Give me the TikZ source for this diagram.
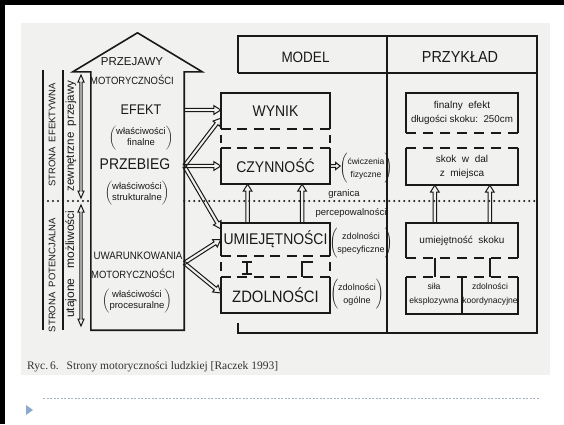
\documentclass[tikz,border=0pt]{standalone}
\usepackage{fontspec}
\setmainfont{Liberation Sans}
\newfontfamily\dfont[FakeStretch=0.9]{Liberation Sans}
\newfontfamily\serfont{Liberation Serif}
\usetikzlibrary{calc}
\definecolor{ink}{RGB}{25,25,25}
\definecolor{scanbg}{RGB}{241,241,240}
\definecolor{sepc}{RGB}{165,178,192}
\definecolor{tric}{RGB}{140,170,205}
\definecolor{capc}{RGB}{50,50,50}
\newcommand\fsz[2]{\fontsize{#1}{#2}\selectfont}
\def\hl{7pt}\def\hw{4.4pt}\def\sw{1.7pt}
% hollow arrow from #2 to #3
\newcommand\harrow[3][]{%
  \coordinate (hB) at ($(#3)!\hl!(#2)$);
  \draw[harr,#1] ($(#2)!\sw!90:(#3)$) -- ($(hB)!\sw!90:(#3)$) -- ($(hB)!\hw!90:(#3)$) -- (#3) -- ($(hB)!\hw!-90:(#3)$) -- ($(hB)!\sw!-90:(#3)$) -- ($(#2)!\sw!-90:(#3)$);
}
% hollow double-headed arrow
\newcommand\hdarrow[2]{%
  \coordinate (hA) at ($(#1)!7pt!(#2)$);
  \coordinate (hB) at ($(#2)!7pt!(#1)$);
  \draw[harr] (#1) -- ($(hA)!3pt!90:(#1)$) -- ($(hA)!1.2pt!90:(#1)$) -- ($(hB)!1.2pt!-90:(#2)$) -- ($(hB)!3pt!-90:(#2)$) -- (#2) -- ($(hB)!3pt!90:(#2)$) -- ($(hB)!1.2pt!90:(#2)$) -- ($(hA)!1.2pt!-90:(#1)$) -- ($(hA)!3pt!-90:(#1)$) -- cycle;
}
\newcommand\hpar[2]{$\bigg(\begin{tabular}{@{}c@{}}#1\\#2\end{tabular}\bigg)$}
\newcommand\mpar[2]{$\Bigg(\begin{tabular}{@{}c@{}}#1\\#2\end{tabular}\Bigg)$}
\begin{document}
\begin{tikzpicture}[x=1pt,y=-1pt,
  ln/.style={draw=ink,line width=1.6pt},
  dshm/.style={draw=ink,line width=1.6pt,dash pattern=on 10pt off 6.5pt},
  dshr/.style={draw=ink,line width=1.6pt,dash pattern=on 10pt off 7pt},
  harr/.style={draw=ink,line width=1pt,line join=miter},
  dotl/.style={draw=ink,line width=2.2pt,line cap=round,dash pattern=on 0pt off 5pt},
  boxn/.style={inner sep=0pt,text=ink},
  lbl/.style={inner sep=0pt,text=ink},
  big/.style={font=\dfont\fsz{15.5}{17}},
  mid/.style={font=\dfont\fsz{10.5}{12}},
  small/.style={font=\fsz{9.5}{11}},
  side/.style={font=\fsz{9}{13}},
  rsm/.style={font=\fsz{10}{14},align=center},
]
\useasboundingbox (0,0) rectangle (564,424);
\fill[white] (0,0) rectangle (564,424);
\fill[scanbg] (21,23) rectangle (550,375);
\fill[black] (0,0) rectangle (564,5);
\fill[black] (0,0) rectangle (5,424);

% ---------- house ----------
\node[boxn, minimum width=93pt, minimum height=258pt] (house) at (137.5,201) {};
\draw[ln, line join=miter] (house.south west) -- (house.north west) -- ++(-18,0)
  -- ($(house.north)+(0,-39)$) -- ($(house.north east)+(18,0)$) -- (house.north east)
  -- (house.south east) -- cycle;
\node[lbl, font=\fsz{11.5}{12}] (przejawy) at (132,62) {PRZEJAWY};
\node[lbl, mid] (motor1) at (132,80) {MOTORYCZNOŚCI};
\node[lbl, font=\dfont\fsz{14}{15}] (efekt) at (141,110) {EFEKT};
\node[lbl, small] (wlfin) at (141,138) {\hpar{właściwości}{finalne}};
\node[lbl, font=\dfont\fsz{15.5}{16}] (przebieg) at (135,164) {PRZEBIEG};
\node[lbl, small] (wlstr) at (137,193) {\hpar{właściwości}{strukturalne}};
\node[lbl, font=\dfont\fsz{10.8}{12}] (uwar) at (138,256) {UWARUNKOWANIA};
\node[lbl, mid] (motor2) at (133,274) {MOTORYCZNOŚCI};
\node[lbl, small] (wlproc) at (137,301) {\hpar{właściwości}{procesuralne}};

% ---------- left scale ----------
\coordinate (L1t) at (43,70); \coordinate (L1b) at (43,330);
\coordinate (L2t) at (63,70); \coordinate (L2b) at (63,330);
\draw[ln] (L1t) -- (L1b);
\draw[ln] (L2t) -- (L2b);
\node[lbl, rotate=90, font=\fsz{9.5}{10}] (strEf) at (52,135) {STRONA\ \ EFEKTYWNA};
\node[lbl, rotate=90, font=\fsz{11.5}{12}] (zewn) at (71,136) {zewnętrzne\ \ przejawy};
\node[lbl, rotate=90, font=\fsz{9.5}{10}] (strPot) at (52,275) {STRONA\ \ POTENCJALNA};
\node[lbl, rotate=90, font=\fsz{12}{12}] (utaj) at (71,264) {utajone\ \ \ możliwości};
\coordinate (da1) at (81,75); \coordinate (da2) at (81,198);
\coordinate (da3) at (81,205); \coordinate (da4) at (81,326);
\hdarrow{da1}{da2}
\hdarrow{da3}{da4}

% ---------- dotted border ----------
\coordinate (dl0) at (43,201); \coordinate (dl1) at (537,201);
\draw[dotl] (dl0) -- (house.west |- dl0);
\draw[dotl] (house.east |- dl0) -- (dl1);

% ---------- frame ----------
\coordinate (fTL) at (238,36); \coordinate (fTR) at (537,36);
\coordinate (fBR) at (537,333); \coordinate (fBL) at (238,333);
\coordinate (fHL) at (238,73); \coordinate (fHR) at (537,73);
\coordinate (fMt) at (387,36); \coordinate (fMb) at (387,333);
\draw[ln] (fHL) -- (fTL) -- (fTR) -- (fBR) -- (fBL) -- ++(0,-10);
\draw[ln] (fHL) -- (fHR);
\draw[ln] (fMt) -- (fMb);
\node[lbl, font=\dfont\fsz{15}{17}] (model) at (305.5,57) {MODEL};
\node[lbl, font=\dfont\fsz{16}{17}] (przyklad) at (460,57) {PRZYKŁAD};

% ---------- model boxes ----------
\node[boxn, big, minimum width=109pt, minimum height=36pt] (wynik) at (275.5,111) {WYNIK};
\draw[ln] (wynik.south west) -- (wynik.north west) -- (wynik.north east) -- (wynik.south east);
\draw[dshm] (wynik.south west) -- (wynik.south east);
\node[boxn, big, minimum width=109pt, minimum height=36pt] (czyn) at (275.5,166) {CZYNNOŚĆ};
\draw[ln] (czyn.north west) -- (czyn.south west) -- (czyn.south east) -- (czyn.north east);
\draw[dshm] (czyn.north west) -- (czyn.north east);
\draw[ln] (wynik.south west) ++(0,6) -- ++(0,8);
\draw[ln] (wynik.south east) ++(0,6) -- ++(0,8);

\node[boxn, big, minimum width=109pt, minimum height=33pt] (umie) at (275.5,239.5) {UMIEJĘTNOŚCI};
\draw[ln] (umie.south west) -- (umie.north west) -- (umie.north east) -- (umie.south east);
\draw[dshm] (umie.south west) -- (umie.south east);
\node[boxn, font=\dfont\fsz{16.5}{17}, minimum width=109pt, minimum height=36pt] (zdol) at (275.5,295) {ZDOLNOŚCI};
\draw[ln] (zdol.north west) -- (zdol.south west) -- (zdol.south east) -- (zdol.north east);
\draw[dshm] (zdol.north west) -- (zdol.north east);
\draw[ln] (umie.south west) ++(0,6) -- ++(0,9);
\draw[ln] (umie.south east) ++(0,6) -- ++(0,9);
% I and Gamma links
\draw[ln] (242,262) -- (252,262) (247,262) -- (247,274) (242,274) -- (252,274);
\draw[ln] (313,262) -- (302,262) -- (302,277);

% arrows between model boxes
\coordinate (u1s) at ($(umie.north west)!0.245!(umie.north east)$);
\coordinate (u1e) at (u1s |- czyn.south);
\coordinate (u2s) at ($(umie.north west)!0.743!(umie.north east)$);
\coordinate (u2e) at (u2s |- czyn.south);
\harrow{u1s}{u1e}
\harrow{u2s}{u2e}

% side labels
\node[lbl, font=\fsz{8.5}{13}] (cwicz) at (366,168) {\mpar{ćwiczenia}{fizyczne}};
\coordinate (cA) at (czyn.east);
\coordinate (cB) at ($(czyn.east)+(10,0)$);
{\def\hl{4.5pt}\def\hw{3.5pt}\def\sw{1.3pt}\harrow{cA}{cB}}
\node[lbl, side] (zspec) at (361,243) {\mpar{zdolności}{specyficzne}};
\node[lbl, side] (zogol) at (357,294) {\mpar{zdolności}{ogólne}};
\node[lbl, font=\fsz{9.5}{10}] (granica) at (344,194) {granica};
\node[lbl, font=\fsz{9.5}{10}] (percep) at (351,213) {percepowalności};

% ---------- arrows from house ----------
\coordinate (oE) at (house.east |- efekt);
\coordinate (tE) at (wynik.west |- efekt);
\coordinate (oP) at ($(house.east |- przebieg)+(0,2)$);
\coordinate (tP1) at (czyn.west |- oP);
\coordinate (tP2) at ($(wynik.south west)+(0,-11)$);
\coordinate (tP3) at ($(umie.north west)+(0,6)$);
\coordinate (oU) at ($(house.east |- uwar)+(0,7)$);
\coordinate (tU1) at (umie.west);
\coordinate (tU2) at ($(zdol.west)+(0,-2)$);
\harrow{oE}{tE}
\harrow{oP}{tP1}
\harrow{oP}{tP2}
\harrow{oP}{tP3}
\harrow{oU}{tU1}
\harrow{oU}{tU2}

% ---------- example column ----------
\node[boxn, rsm, minimum width=112pt, minimum height=40pt] (r1) at (462,113) {finalny\ \ efekt\\\fsz{9.8}{14}długości\ skoku:\ \ 250cm};
\draw[ln] (r1.south west) -- (r1.north west) -- (r1.north east) -- (r1.south east);
\draw[dshr] (r1.south west) -- (r1.south east);
\node[boxn, rsm, minimum width=112pt, minimum height=37pt] (r2) at (462,166.5) {skok\ \ w\ \ dal\\z\ \ miejsca};
\draw[ln] (r2.north west) -- (r2.south west) -- (r2.south east) -- (r2.north east);
\draw[dshr] (r2.north west) -- (r2.north east);
\node[boxn, rsm, minimum width=112pt, minimum height=35pt] (r3) at (462,240.5) {umiejętność\ \ skoku};
\draw[ln] (r3.south west) -- (r3.north west) -- (r3.north east) -- (r3.south east);
\draw[dshr] (r3.south west) -- (r3.south east);
\node[boxn, minimum width=112pt, minimum height=37pt] (r4) at (462,295.5) {};
\draw[ln] (r4.north west) -- (r4.south west) -- (r4.south east) -- (r4.north east);
\draw[dshr] (r4.north west) -- (r4.north east);
\draw[ln] (r4.north) -- (r4.south);
\node[lbl, font=\fsz{8.6}{14}, align=center] (sila) at (434,294) {siła\\eksplozywna};
\node[lbl, font=\fsz{8.6}{14}, align=center] (zkoord) at (490,294) {zdolności\\koordynacyjne};
\coordinate (c1) at ($(r3.south west)+(29,0)$);
\coordinate (c2) at ($(r3.south west)+(84,0)$);
\draw[ln] (c1) -- (c1 |- r4.north);
\draw[ln] (c2) -- (c2 |- r4.north);
\coordinate (q1s) at ($(r3.north west)+(29,0)$);
\coordinate (q1e) at (q1s |- r2.south);
\coordinate (q2s) at ($(r3.north west)+(84,0)$);
\coordinate (q2e) at (q2s |- r2.south);
\harrow{q1s}{q1e}
\harrow{q2s}{q2e}

% ---------- caption and slide decoration ----------
\node[anchor=west, inner sep=0pt, text=capc, font=\serfont\fsz{11.5}{13}] (cap) at (27,367) {Ryc.\,6.\hspace{8pt}Strony motoryczności ludzkiej [Raczek 1993]};
\coordinate (sep0) at (43,398); \coordinate (sep1) at (540,398);
\draw[sepc, line width=0.6pt, dash pattern=on 2pt off 1.5pt] (sep0) -- (sep1);
\fill[tric] (26,405) -- (33,410) -- (26,415) -- cycle;
\end{tikzpicture}
\end{document}
